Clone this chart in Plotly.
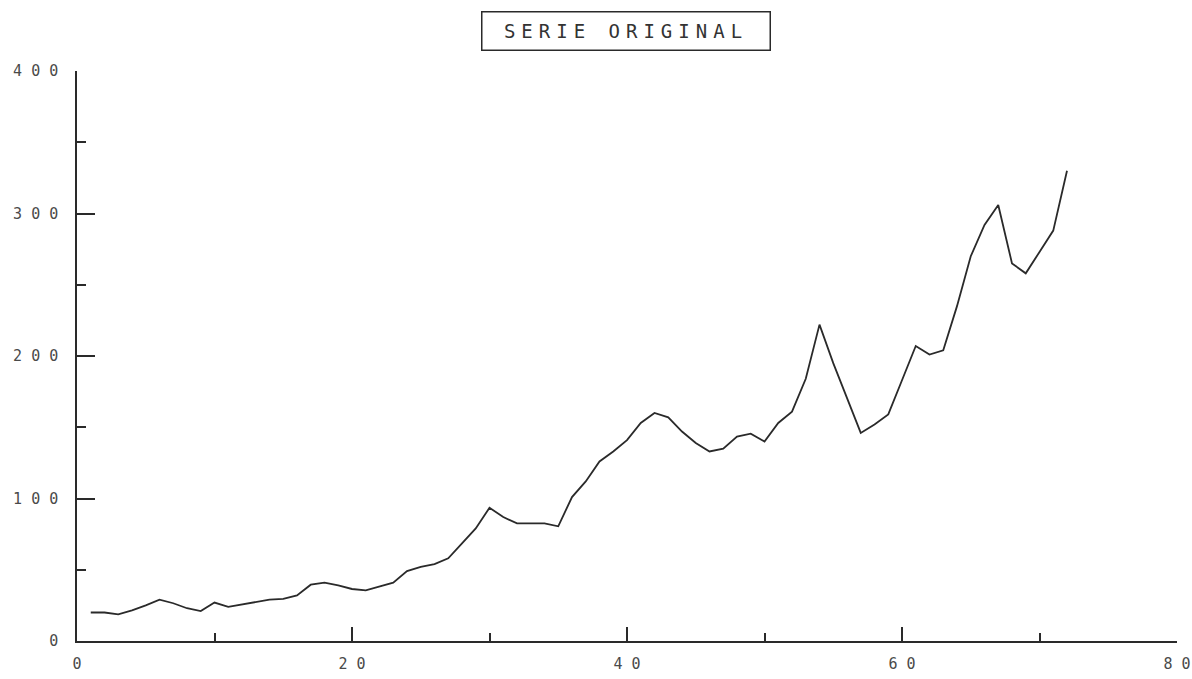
import plotly.graph_objects as go

# Data
t_values = list(range(1, 73))
series_values = [
    20, 20, 18.7, 21.5, 25, 29, 26.5, 23, 21, 27,
    24, 25.5, 27.5, 29, 29.5, 32, 39.5, 41, 39, 36.5,
    35.5, 38, 41, 49, 52, 54, 58, 68.5, 79, 93.5,
    87, 82.5, 82.5, 82.5, 80.5, 101, 112, 126, 133, 141,
    153, 160, 157, 147, 139, 133, 135, 143.5, 145.5, 140,
    153, 161, 184, 222, 195, 170, 146, 152, 159, 183,
    207, 201, 204, 235, 270, 292, 306, 265, 258, 273,
    288, 330,
]
x_tickvals = [0, 20, 40, 60, 80]
x_ticktext = ["0", "2 0", "4 0", "6 0", "8 0"]
y_tickvals = [0, 100, 200, 300, 400]
y_ticktext = ["0", "1 0 0", "2 0 0", "3 0 0", "4 0 0"]
title_text = "SERIE ORIGINAL"

ink = "#2a2a2a"
label_font = dict(family="DejaVu Sans Mono", size=15, color="#4a4a4a")

fig = go.Figure()
fig.add_trace(go.Scatter(
    x=t_values, y=series_values, mode="lines",
    line=dict(color=ink, width=1.8), showlegend=False,
))

fig.update_layout(
    width=1192, height=679,
    margin=dict(l=77, r=15, t=71, b=38, autoexpand=False),
    paper_bgcolor="white", plot_bgcolor="white",
    xaxis=dict(
        range=[0, 80], showgrid=False, zeroline=False, automargin=False,
        showline=True, linecolor=ink, linewidth=1.5,
        tickvals=x_tickvals, ticktext=x_ticktext,
        ticks="inside", ticklen=14, tickwidth=1.5, tickcolor=ink,
        minor=dict(dtick=10, ticks="inside", ticklen=8, tickwidth=1.5, tickcolor=ink, showgrid=False),
        tickfont=label_font, ticklabelstandoff=8,
    ),
    yaxis=dict(
        range=[0, 400], showgrid=False, zeroline=False, automargin=False,
        showline=True, linecolor=ink, linewidth=1.5,
        tickvals=y_tickvals, ticktext=y_ticktext,
        ticks="inside", ticklen=18, tickwidth=1.5, tickcolor=ink,
        minor=dict(dtick=50, ticks="inside", ticklen=9, tickwidth=1.5, tickcolor=ink, showgrid=False),
        tickfont=label_font, ticklabelstandoff=14,
    ),
    annotations=[dict(
        text='<span style="letter-spacing:6px">' + title_text + '</span>',
        xref="paper", yref="paper", x=0.4995, y=1.07,
        xanchor="center", yanchor="middle", showarrow=False,
        font=dict(family="DejaVu Sans Mono", size=19, color="#333333"),
        bordercolor=ink, borderwidth=1.5, borderpad=2,
        width=283, height=33, bgcolor="white",
    )],
)

fig.write_html(
    "out.html",
    config={"displayModeBar": False},
    post_script="document.body.style.margin='0';document.body.style.overflow='hidden';",
)
